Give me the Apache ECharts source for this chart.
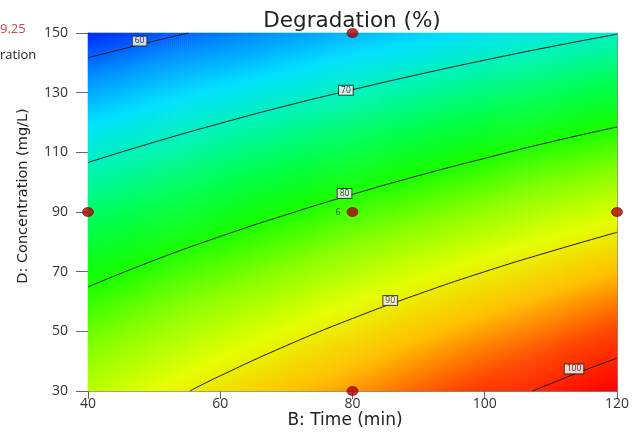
<!DOCTYPE html>
<html><head><meta charset="utf-8">
<script src="https://cdn.jsdelivr.net/npm/echarts@6/dist/echarts.min.js"></script>
<style>html,body{margin:0;padding:0;background:#fff;overflow:hidden}#c{width:632px;height:436px}</style>
</head><body><div id="c"></div>
<script>
// Response surface: rows = concentration, cols = time
const timeGrid = [40, 50, 60, 70, 80, 90, 100, 110, 120];
const concGrid = [30, 45, 60, 75, 90, 105, 120, 135, 150];
const degradationGrid = [
  [86.82, 88.91, 90.95, 92.95, 94.90, 96.81, 98.68, 100.50, 102.28],
  [84.06, 86.10, 88.10, 90.05, 91.96, 93.82, 95.64, 97.42, 99.15],
  [81.05, 83.04, 84.98, 86.89, 88.75, 90.57, 92.34, 94.07, 95.76],
  [77.76, 79.71, 81.61, 83.47, 85.28, 87.05, 88.78, 90.46, 92.10],
  [74.22, 76.12, 77.97, 79.78, 81.55, 83.27, 84.95, 86.59, 88.18],
  [70.41, 72.26, 74.07, 75.84, 77.56, 79.23, 80.87, 82.45, 84.00],
  [66.35, 68.15, 69.91, 71.63, 73.30, 74.93, 76.52, 78.06, 79.56],
  [62.01, 63.77, 65.48, 67.16, 68.78, 70.36, 71.90, 73.40, 74.85],
  [57.42, 59.13, 60.80, 62.42, 64.00, 65.54, 67.03, 68.48, 69.88]
];
const xTicks = [40, 60, 80, 100, 120];
const yTicks = [30, 50, 70, 90, 110, 130, 150];
// contour lines (time, concentration)
const contour60 = [[40, 141.7], [45, 144.5], [50, 147.3], [55.2, 150]];
const contour70 = [[40, 106.6], [50, 113.4], [60, 119.7], [70, 125.6], [80, 131.0], [90, 136.1], [100, 140.9], [110, 145.4], [120, 149.6]];
const contour80 = [[40, 64.9], [50, 73.8], [60, 81.8], [70, 89.1], [80, 95.9], [90, 102.2], [100, 108.0], [110, 113.5], [120, 118.5]];
const contour90 = [[55.4, 30], [60, 35.1], [70, 45.2], [80, 54.3], [90, 62.5], [100, 70.0], [110, 76.8], [120, 83.2]];
const contour100 = [[107.2, 30], [110, 32.5], [115, 36.9], [120, 41.0]];
const contourLabels = [[47.8, 147.3, 60], [79, 130.8, 70], [78.8, 96.2, 80], [85.7, 60.3, 90], [113.5, 37.4, 100]];
const designPoints = [[40, 90], [80, 150], [80, 90], [80, 30], [120, 90]];
const centerReplicates = 6;

const NX = 266, NY = 179;
function valueAt(t, c) {
  let i = 0; while (i < timeGrid.length - 2 && t > timeGrid[i + 1]) i++;
  let j = 0; while (j < concGrid.length - 2 && c > concGrid[j + 1]) j++;
  const u = (t - timeGrid[i]) / (timeGrid[i + 1] - timeGrid[i]);
  const v = (c - concGrid[j]) / (concGrid[j + 1] - concGrid[j]);
  const a = degradationGrid[j][i], b = degradationGrid[j][i + 1];
  const d = degradationGrid[j + 1][i], e = degradationGrid[j + 1][i + 1];
  return (a * (1 - u) + b * u) * (1 - v) + (d * (1 - u) + e * u) * v;
}
const tMin = xTicks[0], tMax = xTicks[xTicks.length - 1];
const cMin = yTicks[0], cMax = yTicks[yTicks.length - 1];
const cells = [], xCats = [], yCats = [];
for (let i = 0; i < NX; i++) xCats.push(i);
for (let j = 0; j < NY; j++) yCats.push(j);
for (let i = 0; i < NX; i++) {
  const t = tMin + (i + 0.5) * (tMax - tMin) / NX;
  for (let j = 0; j < NY; j++) {
    const c = cMin + (j + 0.5) * (cMax - cMin) / NY;
    cells.push([i, j, valueAt(t, c)]);
  }
}
const flat = degradationGrid.flat();
const vMin = Math.min(...flat), vMax = Math.max(...flat);

const FONT = 'Open Sans';
const lineStyle = { color: '#1a1a1a', width: 1 };
function contourSeries(data) {
  return { type: 'line', data, smooth: true, symbol: 'none', lineStyle, silent: true, z: 3, clip: true };
}
const chart = echarts.init(document.getElementById('c'), null, { renderer: 'canvas', width: 632, height: 436 });
chart.setOption({
  animation: false,
  backgroundColor: '#fff',
  grid: { left: 88, top: 33, width: 532, height: 358, containLabel: false },
  xAxis: [
    { type: 'value', min: tMin, max: tMax, interval: xTicks[1] - xTicks[0],
      axisLine: { lineStyle: { color: '#888' } },
      axisTick: { length: 8, lineStyle: { color: '#666' } },
      axisLabel: { margin: 6, fontFamily: FONT, fontSize: 14, color: '#333' },
      splitLine: { show: false } },
    { type: 'category', data: xCats, position: 'top', boundaryGap: true,
      axisLine: { show: true, lineStyle: { color: '#555' } }, axisTick: { show: false }, axisLabel: { show: false } }
  ],
  yAxis: [
    { type: 'value', min: cMin, max: cMax, interval: yTicks[1] - yTicks[0],
      axisLine: { show: true, lineStyle: { color: '#888' } },
      axisTick: { show: true, length: 12, lineStyle: { color: '#666' } },
      axisLabel: { margin: 20, fontFamily: FONT, fontSize: 14, color: '#333' },
      splitLine: { show: false } },
    { type: 'category', data: yCats, position: 'right', boundaryGap: true,
      axisLine: { show: true, lineStyle: { color: '#888' } }, axisTick: { show: false }, axisLabel: { show: false } }
  ],
  visualMap: {
    show: false, type: 'continuous', min: vMin, max: vMax, dimension: 2, seriesIndex: 0,
    inRange: { color: ['#0028ff', '#0090ff', '#00e0ff', '#00f5b0', '#00ff50', '#18ff00', '#88ff00', '#e4ff00', '#ffc000', '#ff4800', '#ff0000'] }
  },
  graphic: [
    { type: 'text', x: 352, y: 10, style: { text: 'Degradation (%)', font: '21.5px "DejaVu Sans"', fill: '#222', align: 'center' } },
    { type: 'text', x: 345, y: 421, style: { text: 'B: Time (min)', font: '17px "DejaVu Sans"', fill: '#222', align: 'center', verticalAlign: 'middle' } },
    { type: 'text', x: 23, y: 196, rotation: Math.PI / 2,
      style: { text: 'D: Concentration (mg/L)', font: '14.5px "DejaVu Sans"', fill: '#222', align: 'center', verticalAlign: 'middle' } },
    { type: 'text', left: 0, top: 23, style: { text: '9.25', font: '13px "Open Sans"', fill: '#d04848' } },
    { type: 'text', left: 0, top: 49, style: { text: 'ration', font: '13px "Open Sans"', fill: '#222' } }
  ],
  series: [
    { type: 'heatmap', xAxisIndex: 1, yAxisIndex: 1, data: cells, silent: true, progressive: 0,
      itemStyle: { borderWidth: 0 } },
    contourSeries(contour60), contourSeries(contour70), contourSeries(contour80),
    contourSeries(contour90), contourSeries(contour100),
    { type: 'scatter', data: contourLabels, symbolSize: 0, z: 4, silent: true,
      label: { show: true, position: 'inside', formatter: p => String(p.value[2]),
        fontFamily: FONT, fontSize: 8.5, color: '#000', backgroundColor: '#fff',
        borderColor: '#222', borderWidth: 1, padding: [0, 2, 0, 2] } },
    { type: 'scatter', z: 5, silent: true, symbol: 'circle', symbolSize: [11, 9],
      itemStyle: { color: '#b00000', borderColor: '#700000', borderWidth: 0.8 },
      data: designPoints.map((p) => (p[0] === 80 && p[1] === 90)
        ? { value: p, label: { show: true, position: 'left', distance: 6, formatter: String(centerReplicates), fontFamily: FONT, fontSize: 9, color: '#333' } }
        : { value: p }) }
  ]
});
</script></body></html>
